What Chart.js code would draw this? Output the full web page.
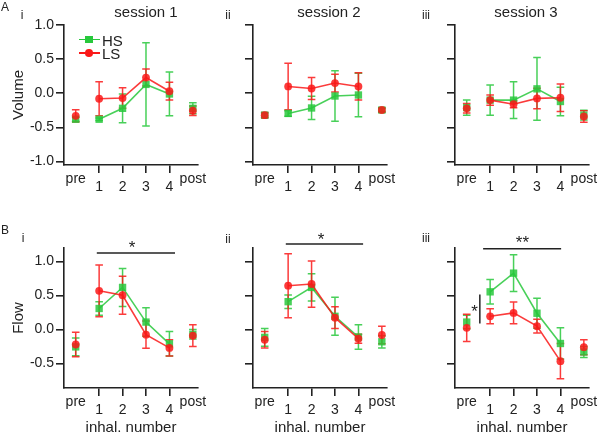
<!DOCTYPE html>
<html><head><meta charset="utf-8">
<script src="https://cdn.jsdelivr.net/npm/chart.js@4"></script>
<style>
html,body{margin:0;padding:0;background:#fff;}
#wrap{position:relative;width:600px;height:435px;overflow:hidden;font-family:'Liberation Sans',Arial,sans-serif;color:#222;}
canvas{position:absolute;}
.t{position:absolute;transform:translate(-50%,-50%);line-height:1;white-space:nowrap;}
.tl{position:absolute;transform:translate(0,-50%);line-height:1;white-space:nowrap;}
.ln{position:absolute;height:1.6px;}
.mk{position:absolute;}
</style></head><body><div id="wrap">
<canvas id="a1" width="212" height="215" style="left:0;top:0"></canvas>
<canvas id="a2" width="212" height="215" style="left:189px;top:0"></canvas>
<canvas id="a3" width="212" height="215" style="left:391px;top:0"></canvas>
<canvas id="b1" width="212" height="220" style="left:0;top:215px"></canvas>
<canvas id="b2" width="212" height="220" style="left:189px;top:215px"></canvas>
<canvas id="b3" width="212" height="220" style="left:391px;top:215px"></canvas>

<div class="t" style="left:5px;top:7px;font-size:12px">A</div>
<div class="t" style="left:22px;top:15px;font-size:12px">i</div>
<div class="t" style="left:228px;top:15px;font-size:12px">ii</div>
<div class="t" style="left:426px;top:15px;font-size:12px">iii</div>
<div class="t" style="left:5px;top:230px;font-size:12px">B</div>
<div class="t" style="left:23px;top:238px;font-size:12px">i</div>
<div class="t" style="left:228px;top:239px;font-size:12px">ii</div>
<div class="t" style="left:426px;top:238px;font-size:12px">iii</div>
<div class="t" style="left:146px;top:11px;font-size:15px">session 1</div>
<div class="t" style="left:329px;top:11px;font-size:15px">session 2</div>
<div class="t" style="left:526px;top:11px;font-size:15px">session 3</div>

<div class="ln" style="left:78.5px;top:38.5px;width:21px;background:rgb(40,200,60)"></div>
<div class="mk" style="left:85.3px;top:35.7px;width:7.4px;height:7.4px;background:rgb(40,200,60)"></div>
<div class="tl" id="lgHS" style="left:102px;top:40px;font-size:15px"></div>
<div class="ln" style="left:78.5px;top:52px;width:21px;background:rgb(250,25,25)"></div>
<div class="mk" style="left:85.3px;top:49px;width:7.6px;height:7.6px;border-radius:50%;background:rgb(250,25,25)"></div>
<div class="tl" id="lgLS" style="left:102px;top:53px;font-size:15px"></div>
</div>
<script>
// ---- data ----
const xLabels = ['pre', '1', '2', '3', '4', 'post'];
const seriesNames = ['HS', 'LS'];
const yTicksVolume = [-1.0, -0.5, 0.0, 0.5, 1.0];
const yTicksFlow = [-0.5, 0.0, 0.5, 1.0];

// Volume
const volHS1 = [-0.38, -0.38, -0.22, 0.13, -0.01, -0.22];
const volHS1Err = [0.03, 0.02, 0.21, 0.61, 0.32, 0.08];
const volLS1 = [-0.33, -0.08, -0.07, 0.23, 0.03, -0.255];
const volLS1Err = [0.09, 0.25, 0.15, 0.125, 0.13, 0.07];

const volHS2 = [-0.32, -0.295, -0.215, -0.04, -0.025, -0.245];
const volHS2Err = [0.03, 0.04, 0.17, 0.37, 0.32, 0.03];
const volLS2 = [-0.32, 0.10, 0.07, 0.15, 0.10, -0.245];
const volLS2Err = [0.04, 0.34, 0.16, 0.13, 0.20, 0.03];

const volHS3 = [-0.21, -0.10, -0.10, 0.065, -0.12, -0.32];
const volHS3Err = [0.11, 0.22, 0.27, 0.46, 0.21, 0.07];
const volLS3 = [-0.22, -0.10, -0.16, -0.075, -0.065, -0.34];
const volLS3Err = [0.07, 0.075, 0.05, 0.15, 0.20, 0.085];

// Flow
const flowHS1 = [-0.255, 0.31, 0.62, 0.11, -0.21, -0.07];
const flowHS1Err = [0.13, 0.10, 0.28, 0.21, 0.18, 0.07];
const flowLS1 = [-0.22, 0.57, 0.505, -0.075, -0.27, -0.09];
const flowLS1Err = [0.18, 0.38, 0.28, 0.20, 0.12, 0.16];

const flowHS2 = [-0.115, 0.41, 0.62, 0.195, -0.11, -0.18];
const flowHS2Err = [0.13, 0.10, 0.20, 0.28, 0.18, 0.09];
const flowLS2 = [-0.15, 0.645, 0.67, 0.175, -0.135, -0.08];
const flowLS2Err = [0.12, 0.47, 0.34, 0.16, 0.065, 0.13];

const flowHS3 = [0.11, 0.555, 0.83, 0.24, -0.205, -0.33];
const flowHS3Err = [0.10, 0.18, 0.27, 0.22, 0.23, 0.08];
const flowLS3 = [0.025, 0.195, 0.245, 0.05, -0.465, -0.26];
const flowLS3Err = [0.20, 0.11, 0.16, 0.10, 0.26, 0.11];

// ---- styling ----
const INK = '#222';
const G = 'rgba(40,200,60,0.85)';
const R = 'rgba(250,25,25,0.85)';
const FONT = "'Liberation Sans', Arial, sans-serif";
Chart.defaults.font.family = FONT;
Chart.defaults.color = INK;

document.getElementById('lgHS').textContent = seriesNames[0];
document.getElementById('lgLS').textContent = seriesNames[1];

const errPlugin = {
  id: 'errbars',
  beforeDatasetsDraw(chart) {
    const {ctx, scales: {x, y}} = chart;
    chart.data.datasets.forEach(ds => {
      if (!ds.errors) return;
      ctx.save();
      ctx.strokeStyle = ds.borderColor;
      ctx.lineWidth = 1.5;
      const cap = 3.8;
      ds.data.forEach((p, i) => {
        const e = ds.errors[i];
        const px = x.getPixelForValue(p.x);
        const y0 = y.getPixelForValue(p.y - e), y1 = y.getPixelForValue(p.y + e);
        ctx.beginPath();
        ctx.moveTo(px, y0); ctx.lineTo(px, y1);
        ctx.moveTo(px - cap, y0); ctx.lineTo(px + cap, y0);
        ctx.moveTo(px - cap, y1); ctx.lineTo(px + cap, y1);
        ctx.stroke();
      });
      ctx.restore();
    });
  },
  afterDraw(chart) {
    const {ctx, scales: {x, y}} = chart;
    ctx.save();
    ctx.fillStyle = INK;
    ctx.font = '14px ' + FONT;
    ctx.textAlign = 'center';
    ctx.textBaseline = 'middle';
    ctx.fillText(xLabels[0], x.getPixelForValue(0), x.top + 14);
    ctx.fillText(xLabels[5], x.getPixelForValue(5), x.top + 14);
    const sig = chart.options.plugins.sig;
    if (sig) {
      ctx.strokeStyle = INK;
      ctx.lineWidth = 1.5;
      (sig.hbars || []).forEach(b => {
        const py = y.getPixelForValue(b.y);
        ctx.beginPath();
        ctx.moveTo(x.getPixelForValue(b.x0), py);
        ctx.lineTo(x.getPixelForValue(b.x1), py);
        ctx.stroke();
      });
      (sig.vbars || []).forEach(b => {
        const px = x.getPixelForValue(b.x);
        ctx.beginPath();
        ctx.moveTo(px, y.getPixelForValue(b.y0));
        ctx.lineTo(px, y.getPixelForValue(b.y1));
        ctx.stroke();
      });
      ctx.font = '17px ' + FONT;
      (sig.stars || []).forEach(s => {
        ctx.fillText(s.text, x.getPixelForValue(s.x), y.getPixelForValue(s.y) + 3.8);
      });
    }
    ctx.restore();
  }
};

const hideEnds = ctx => (ctx.p0DataIndex === 0 || ctx.p1DataIndex === 5) ? 'rgba(0,0,0,0)' : undefined;
const pts = vals => vals.map((v, i) => ({x: i, y: v}));

function panel(id, o) {
  new Chart(document.getElementById(id), {
    type: 'line',
    data: {
      datasets: [
        {label: seriesNames[0], data: pts(o.hs), errors: o.hsErr, borderColor: G, backgroundColor: G,
         pointStyle: 'rect', pointRadius: 5.2, pointBorderWidth: 0, borderWidth: 1.6, tension: 0,
         segment: {borderColor: hideEnds}, order: 2},
        {label: seriesNames[1], data: pts(o.ls), errors: o.lsErr, borderColor: R, backgroundColor: R,
         pointStyle: 'circle', pointRadius: 3.9, pointBorderWidth: 0, borderWidth: 1.6, tension: 0,
         segment: {borderColor: hideEnds}, order: 1}
      ]
    },
    options: {
      responsive: false, animation: false, events: [],
      layout: {padding: {left: 0, right: 14, top: o.top, bottom: 0}},
      plugins: {legend: {display: false}, tooltip: {enabled: false}, sig: o.sig},
      scales: {
        x: {
          type: 'linear', min: -0.5, max: 5.22,
          afterBuildTicks: s => { s.ticks = [1, 2, 3, 4].map(v => ({value: v})); },
          afterFit: s => { s.height = o.xh; },
          ticks: {callback: v => xLabels[v], font: {size: 14}, padding: 6, color: INK, autoSkip: false, maxRotation: 0},
          grid: {drawOnChartArea: false, tickLength: 8, color: INK, lineWidth: 1.6},
          border: {color: INK, width: 1.6},
          title: {display: !!o.xTitle, text: o.xTitle || '', font: {size: 15, lineHeight: 1}, padding: {top: 0, bottom: 0}, color: INK}
        },
        y: {
          type: 'linear', min: o.yMin, max: o.yMax,
          afterBuildTicks: s => { s.ticks = o.yTicks.map(v => ({value: v})); },
          afterFit: s => { s.width = 64; },
          ticks: {callback: v => o.showY ? v.toFixed(1) : '', font: {size: 14}, padding: 2, color: INK},
          grid: {drawOnChartArea: false, tickLength: 8, color: INK, lineWidth: 1.6},
          border: {color: INK, width: 1.6},
          title: {display: !!o.yTitle, text: o.yTitle || '', font: {size: 15}, padding: {top: 10, bottom: 0}, color: INK}
        }
      }
    },
    plugins: [errPlugin]
  });
}

const A = {top: 25, xh: 50, yMin: -1.05, yMax: 1.0, yTicks: yTicksVolume};
const B = {top: 33, xh: 47, yMin: -0.86, yMax: 1.2, yTicks: yTicksFlow, xTitle: 'inhal. number'};

panel('a1', {...A, showY: true, yTitle: 'Volume', hs: volHS1, hsErr: volHS1Err, ls: volLS1, lsErr: volLS1Err});
panel('a2', {...A, showY: false, hs: volHS2, hsErr: volHS2Err, ls: volLS2, lsErr: volLS2Err});
panel('a3', {...A, showY: false, hs: volHS3, hsErr: volHS3Err, ls: volLS3, lsErr: volLS3Err});

panel('b1', {...B, showY: true, yTitle: 'Flow', hs: flowHS1, hsErr: flowHS1Err, ls: flowLS1, lsErr: flowLS1Err,
  sig: {hbars: [{x0: 0.9, x1: 4.24, y: 1.128}], stars: [{x: 2.4, y: 1.25, text: '*'}]}});
panel('b2', {...B, showY: false, hs: flowHS2, hsErr: flowHS2Err, ls: flowLS2, lsErr: flowLS2Err,
  sig: {hbars: [{x0: 0.9, x1: 4.2, y: 1.26}], stars: [{x: 2.4, y: 1.37, text: '*'}]}});
panel('b3', {...B, showY: false, hs: flowHS3, hsErr: flowHS3Err, ls: flowLS3, lsErr: flowLS3Err,
  sig: {hbars: [{x0: 0.7, x1: 4.03, y: 1.19}], vbars: [{x: 0.56, y0: 0.09, y1: 0.515}],
        stars: [{x: 2.38, y: 1.32, text: '**'}, {x: 0.34, y: 0.31, text: '*'}]}});
</script>
</body></html>
